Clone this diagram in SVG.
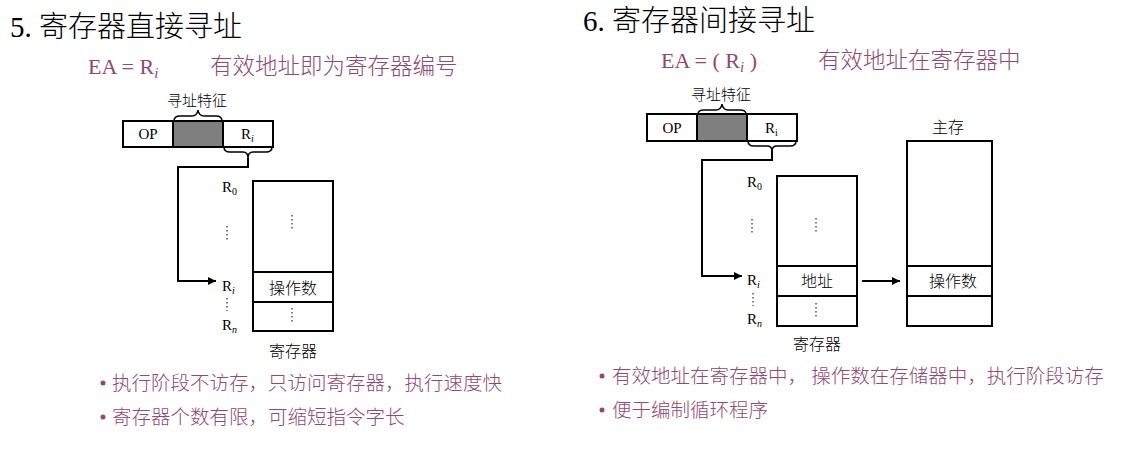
<svg xmlns="http://www.w3.org/2000/svg" width="1134" height="460" viewBox="0 0 1134 460">
<defs>
<style>
.t{font-family:"Liberation Serif","Noto Sans CJK SC",serif;fill:#000}
.c{font-family:"Noto Sans CJK SC",sans-serif;fill:#000;font-weight:300}
.p{fill:#8E4A72}
.b{fill:#fff;stroke:#000;stroke-width:2}
.g{fill:#7f7f7f;stroke:#000;stroke-width:2}
.l{fill:none;stroke:#000;stroke-width:2}
.d{fill:none;stroke:#000;stroke-width:1;stroke-dasharray:1.5 2.5}
.br{fill:none;stroke:#000;stroke-width:1.5}
</style>
<marker id="a" viewBox="0 0 10 10" refX="10" refY="5" markerWidth="4" markerHeight="4" orient="auto"><path d="M0,0L10,5L0,10z" fill="#000"/></marker>
</defs>
<rect width="1134" height="460" fill="#fff"/>
<!-- left -->
<g id="title5"><text class="t" x="10" y="37" font-size="29">5. <tspan class="c">寄存器直接寻址</tspan></text></g>
<g id="ea5"><text class="t p" x="88" y="74" font-size="22">EA = R<tspan font-style="italic" font-size="15" dy="4">i</tspan></text>
<text class="c p" x="210" y="74" font-size="22.5">有效地址即为寄存器编号</text></g>
<g id="instr5">
<rect class="b" x="123" y="121" width="50" height="26"/><rect class="g" x="173" y="121" width="50" height="26"/><rect class="b" x="223" y="121" width="50" height="26"/>
<text class="t" x="148" y="139" font-size="15" text-anchor="middle">OP</text>
<text class="t" x="241" y="139" font-size="15">R<tspan font-style="italic" font-size="10" dy="3">i</tspan></text>
<path class="br" d="M174,121 Q174,116 180,116 L192,116 Q197,116 198,110 Q199,116 204,116 L216,116 Q222,116 222,121"/>
<text class="c" x="197" y="106" font-size="15" text-anchor="middle">寻址特征</text>
<path class="br" d="M224,147 Q224,152 230,152 L243,152 Q248,152 248,158 Q248,152 253,152 L266,152 Q272,152 272,147"/>
</g>
<g id="reg5">
<rect class="b" x="253" y="181" width="80" height="150"/>
<line class="l" x1="253" y1="272" x2="333" y2="272"/><line class="l" x1="253" y1="302" x2="333" y2="302"/>
<line class="d" x1="292" y1="215" x2="292" y2="230"/><line class="d" x1="292" y1="308" x2="292" y2="322"/>
<text class="c" x="293" y="294" font-size="16" text-anchor="middle">操作数</text>
<text class="t" x="222" y="192" font-size="15">R<tspan font-size="10" dy="3">0</tspan></text>
<line class="d" x1="227" y1="226" x2="227" y2="241"/>
<text class="t" x="222" y="291" font-size="15">R<tspan font-style="italic" font-size="10" dy="3">i</tspan></text>
<line class="d" x1="227" y1="298" x2="227" y2="311"/>
<text class="t" x="222" y="330" font-size="15">R<tspan font-style="italic" font-size="10" dy="3">n</tspan></text>
<text class="c" x="293" y="357" font-size="16" text-anchor="middle">寄存器</text>
</g>
<g id="bul5">
<circle class="p" cx="103" cy="383" r="2.5"/><circle class="p" cx="103" cy="417" r="2.5"/>
<text class="c p" x="112" y="390" font-size="19.5">执行阶段不访存，只访问寄存器，执行速度快</text>
<text class="c p" x="112" y="424" font-size="19.5">寄存器个数有限，可缩短指令字长</text>
</g>
<!-- right -->
<g id="title6"><text class="t" x="583" y="31" font-size="29">6. <tspan class="c">寄存器间接寻址</tspan></text></g>
<g id="ea6"><text class="t p" x="661" y="68" font-size="22">EA = ( R<tspan font-style="italic" font-size="15" dy="4">i</tspan><tspan dy="-4"> )</tspan></text>
<text class="c p" x="818" y="68" font-size="22.5">有效地址在寄存器中</text></g>
<g id="instr6">
<rect class="b" x="647" y="114" width="50" height="27"/><rect class="g" x="697" y="114" width="50" height="27"/><rect class="b" x="747" y="114" width="50" height="27"/>
<text class="t" x="672" y="133" font-size="15" text-anchor="middle">OP</text>
<text class="t" x="765" y="133" font-size="15">R<tspan font-size="10" dy="3">i</tspan></text>
<path class="br" d="M698,114 Q698,110 704,110 L716,110 Q721,110 722,104 Q723,110 728,110 L740,110 Q746,110 746,114"/>
<text class="c" x="721" y="100" font-size="15" text-anchor="middle">寻址特征</text>
<path class="br" d="M748,141 Q748,146 754,146 L767,146 Q772,146 772,151 Q772,146 777,146 L790,146 Q796,146 796,141"/>
</g>
<g id="reg6">
<rect class="b" x="777" y="176" width="80" height="150"/>
<line class="l" x1="777" y1="266" x2="857" y2="266"/><line class="l" x1="777" y1="296" x2="857" y2="296"/>
<line class="d" x1="816" y1="218" x2="816" y2="232"/><line class="d" x1="816" y1="303" x2="816" y2="317"/>
<text class="c" x="817" y="287" font-size="16" text-anchor="middle">地址</text>
<text class="t" x="747" y="187" font-size="15">R<tspan font-size="10" dy="3">0</tspan></text>
<line class="d" x1="752" y1="219" x2="752" y2="233"/>
<text class="t" x="747" y="285" font-size="15">R<tspan font-style="italic" font-size="10" dy="3">i</tspan></text>
<line class="d" x1="753" y1="293" x2="753" y2="306"/>
<text class="t" x="747" y="324" font-size="15">R<tspan font-style="italic" font-size="10" dy="3">n</tspan></text>
<text class="c" x="817" y="350" font-size="16" text-anchor="middle">寄存器</text>
</g>
<g id="mem6">
<rect class="b" x="907" y="141" width="85" height="185"/>
<line class="l" x1="907" y1="266" x2="992" y2="266"/><line class="l" x1="907" y1="296" x2="992" y2="296"/>
<text class="c" x="953" y="287" font-size="16" text-anchor="middle">操作数</text>
<text class="c" x="948" y="133" font-size="16" text-anchor="middle">主存</text>
</g>
<g id="bul6">
<circle class="p" cx="602" cy="376" r="2.5"/><circle class="p" cx="602" cy="410" r="2.5"/>
<text class="c p" x="612" y="383" font-size="19.5">有效地址在寄存器中， 操作数在存储器中，执行阶段访存</text>
<text class="c p" x="612" y="417" font-size="19.5">便于编制循环程序</text>
</g>
<g id="connectors">
<polyline class="l" points="248,158 248,167 178,167 178,281 216,281" stroke-width="1.8" marker-end="url(#a)"/>
<polyline class="l" points="772,151 772,160 702,160 702,276 742,276" stroke-width="1.8" marker-end="url(#a)"/>
<line class="l" x1="862" y1="281" x2="900" y2="281" stroke-width="1.8" marker-end="url(#a)"/>
</g>
</svg>
